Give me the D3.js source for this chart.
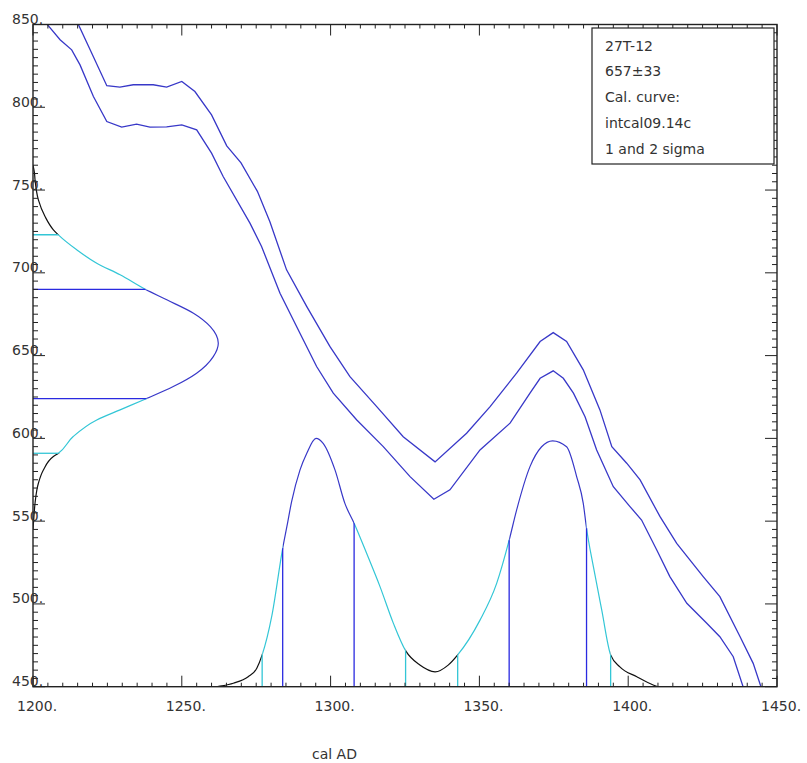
<!DOCTYPE html>
<html>
<head>
<meta charset="utf-8">
<script src="https://cdn.jsdelivr.net/npm/d3@7"></script>
<style>
  body { margin: 0; background: #fff; }
  svg { display: block; font-family: "DejaVu Sans", sans-serif; }
</style>
</head>
<body>
<svg id="chart" width="807" height="763"></svg>
<script>
// tick labels
const xTicks = [1200, 1250, 1300, 1350, 1400, 1450];
const yTicks = [450, 500, 550, 600, 650, 700, 750, 800, 850];

// calibration curve, upper and lower bound (cal AD -> BP)
const upperYears = [1214, 1215.2, 1219.2, 1224.8, 1229.2, 1233.7, 1240.4, 1244.9, 1250, 1254.4, 1260, 1265.1, 1269.9, 1275.4, 1279.6, 1285.2, 1292, 1299.8, 1306.5, 1315.5, 1324.4, 1335.1, 1345.7, 1353.6, 1362.5, 1370.4, 1374.8, 1379.3, 1384.9, 1390.5, 1394.5, 1399.5, 1404, 1410.7, 1416.3, 1425.2, 1430.8, 1437.6, 1442, 1444.6, 1446];
const upperBP = [853, 850.2, 834.7, 813, 812.2, 813.6, 813.6, 812.2, 815.6, 809.5, 795.4, 776.7, 766.4, 749.2, 730.8, 701.8, 679.6, 655.4, 637.3, 619.2, 601, 585.8, 603.1, 619.2, 639.4, 658.5, 663.9, 658.5, 641.4, 617.2, 595, 585, 574.9, 552.7, 536.6, 516.5, 504.4, 480.2, 464.1, 450, 446];
const lowerYears = [1203.5, 1204.7, 1209.1, 1213, 1215.8, 1220.3, 1224.8, 1229.8, 1234.8, 1239.3, 1244.9, 1250, 1255, 1260, 1263.9, 1272.9, 1276.8, 1283, 1289.7, 1295.3, 1300.9, 1308.8, 1317.7, 1326.7, 1334.7, 1340.1, 1350.2, 1360.3, 1367, 1370.4, 1374.8, 1378.2, 1381.6, 1385.5, 1389.4, 1395, 1400.6, 1404.5, 1409.6, 1414, 1419.7, 1426.4, 1430.8, 1435.3, 1438.6, 1440];
const lowerBP = [853, 850.2, 840.8, 834.7, 825.6, 806.5, 791.4, 788, 789.8, 788, 788.2, 789.4, 786.4, 772.3, 758.2, 730, 715.9, 687.7, 663.5, 643.4, 627.3, 611.1, 595, 576.9, 563.2, 568.9, 593, 609.2, 627.3, 636.3, 640.8, 636.3, 627.3, 613.1, 593, 570.8, 558.8, 550.7, 532.6, 516.5, 500.4, 488.3, 480.2, 468.1, 450, 446];

// calibrated probability (relative) by cal AD
const probYears = [1262, 1263.4, 1267.3, 1272.3, 1275.2, 1277, 1280.2, 1283.9, 1285.3, 1286.9, 1289.7, 1292, 1295.1, 1297.5, 1301.5, 1304.8, 1307.9, 1312.1, 1316.6, 1321.1, 1325.2, 1330, 1335.1, 1339.5, 1342.7, 1350.2, 1355.8, 1360, 1362.5, 1367, 1370.9, 1374.6, 1379.3, 1382.7, 1384.9, 1386, 1388.3, 1391.1, 1394.1, 1397.2, 1402.9, 1408.4, 1410];
const probValues = [0, 0.003, 0.014, 0.04, 0.074, 0.128, 0.282, 0.557, 0.644, 0.745, 0.872, 0.94, 1.0, 0.98, 0.872, 0.738, 0.658, 0.537, 0.403, 0.255, 0.145, 0.087, 0.06, 0.087, 0.128, 0.268, 0.416, 0.59, 0.711, 0.886, 0.966, 0.99, 0.966, 0.845, 0.738, 0.638, 0.483, 0.309, 0.128, 0.08, 0.04, 0.007, 0];
const oneSigma = [[1283.9, 1307.9], [1360, 1386]];
const twoSigma = [[1277, 1325.2], [1342.7, 1394.1]];

// radiocarbon date distribution on the BP axis
const c14Mean = 657;
const c14Err = 33;
const c14BP = [765, 760.2, 756.2, 744.1, 734, 726, 722.9, 713.9, 705.8, 698.8, 690.1, 683.7, 675.6, 667.5, 657.5, 649.4, 639.4, 631.3, 623.2, 617.2, 611.1, 601.1, 591, 589, 580.9, 572.9, 560.8, 552.7, 545];
const c14Density = [0, 0.008, 0.011, 0.029, 0.065, 0.11, 0.137, 0.236, 0.344, 0.47, 0.605, 0.722, 0.866, 0.957, 1.0, 0.973, 0.883, 0.757, 0.595, 0.47, 0.344, 0.217, 0.137, 0.11, 0.056, 0.029, 0.011, 0.005, 0];

const legendLines = ["27T-12", "657\u00b133", "Cal. curve:", "intcal09.14c", "1 and 2 sigma"];

const curveBlue = "#3838c8";
const sigBlue = "#2a2ae0";
const cyan = "#33c6d6";
const black = "#111";

const svg = d3.select("#chart");
const x = d3.scaleLinear().domain([1200, 1450]).range([33, 777]);
const y = d3.scaleLinear().domain([450, 850]).range([686.7, 24.5]);
const pScale = d3.scaleLinear().domain([0, 1]).range([y(450), y(450) - 248.4]);
const dScale = d3.scaleLinear().domain([0, 1]).range([x(1200), x(1200) + 185.3]);

function interp(xs, ys, v) {
  const pts = xs.map((d, i) => [d, ys[i]]).sort((a, b) => a[0] - b[0]);
  const i = d3.bisector((p) => p[0]).left(pts, v);
  if (i <= 0) return pts[0][1];
  if (i >= pts.length) return pts[pts.length - 1][1];
  const a = pts[i - 1], b = pts[i];
  return a[1] + (b[1] - a[1]) * (v - a[0]) / (b[0] - a[0]);
}

// intervals of [lo, hi] minus a list of intervals
function subtract(lo, hi, cuts) {
  const out = [];
  let start = lo;
  cuts.slice().sort((a, b) => a[0] - b[0]).forEach((c) => {
    if (c[0] > start) out.push([start, Math.min(c[0], hi)]);
    start = Math.max(start, c[1]);
  });
  if (start < hi) out.push([start, hi]);
  return out;
}

const defs = svg.append("defs");
defs.append("clipPath").attr("id", "plotClip")
  .append("rect")
  .attr("x", x(1200)).attr("y", y(850))
  .attr("width", x(1450) - x(1200)).attr("height", y(450) - y(850));

function bandClip(id, ranges, horiz) {
  const cp = defs.append("clipPath").attr("id", id);
  ranges.forEach((r) => {
    if (horiz) {
      cp.append("rect").attr("x", 0).attr("width", 807)
        .attr("y", y(r[1])).attr("height", y(r[0]) - y(r[1]));
    } else {
      cp.append("rect").attr("y", 0).attr("height", 763)
        .attr("x", x(r[0])).attr("width", x(r[1]) - x(r[0]));
    }
  });
}

const pOut = subtract(1150, 1500, twoSigma);
const pTwo = twoSigma.flatMap((r) => subtract(r[0], r[1], oneSigma));
bandClip("p0", pOut, false);
bandClip("p2", pTwo, false);
bandClip("p1", oneSigma, false);

const c14One = [[c14Mean - c14Err, c14Mean + c14Err]];
const c14TwoFull = [[c14Mean - 2 * c14Err, c14Mean + 2 * c14Err]];
bandClip("c0", subtract(400, 900, c14TwoFull), true);
bandClip("c2", subtract(c14TwoFull[0][0], c14TwoFull[0][1], c14One), true);
bandClip("c1", c14One, true);

const plot = svg.append("g").attr("clip-path", "url(#plotClip)");

// calibration curve
const calLine = d3.line().x((d) => x(d[0])).y((d) => y(d[1]));
plot.append("path")
  .attr("d", calLine(upperYears.map((d, i) => [d, upperBP[i]])))
  .attr("fill", "none").attr("stroke", curveBlue).attr("stroke-width", 1.3);
plot.append("path")
  .attr("d", calLine(lowerYears.map((d, i) => [d, lowerBP[i]])))
  .attr("fill", "none").attr("stroke", curveBlue).attr("stroke-width", 1.3);

// calibrated distribution
const probLine = d3.line().x((d) => x(d[0])).y((d) => pScale(d[1])).curve(d3.curveMonotoneX);
const probData = probYears.map((d, i) => [d, probValues[i]]);
[[black, "p0"], [cyan, "p2"], [curveBlue, "p1"]].forEach(([col, clip]) => {
  plot.append("g").attr("clip-path", `url(#${clip})`)
    .append("path").attr("d", probLine(probData))
    .attr("fill", "none").attr("stroke", col).attr("stroke-width", 1.2);
});
twoSigma.flat().forEach((v) => {
  plot.append("line")
    .attr("x1", x(v)).attr("x2", x(v))
    .attr("y1", pScale(0)).attr("y2", pScale(interp(probYears, probValues, v)))
    .attr("stroke", cyan).attr("stroke-width", 1.3);
});
oneSigma.flat().forEach((v) => {
  plot.append("line")
    .attr("x1", x(v)).attr("x2", x(v))
    .attr("y1", pScale(0)).attr("y2", pScale(interp(probYears, probValues, v)))
    .attr("stroke", sigBlue).attr("stroke-width", 1.3);
});

// radiocarbon distribution
const c14Line = d3.line().x((d) => dScale(d[1])).y((d) => y(d[0])).curve(d3.curveMonotoneY);
const c14Data = c14BP.map((d, i) => [d, c14Density[i]]);
[[black, "c0"], [cyan, "c2"], [curveBlue, "c1"]].forEach(([col, clip]) => {
  plot.append("g").attr("clip-path", `url(#${clip})`)
    .append("path").attr("d", c14Line(c14Data))
    .attr("fill", "none").attr("stroke", col).attr("stroke-width", 1.2);
});
c14TwoFull.flat().forEach((v) => {
  plot.append("line")
    .attr("x1", dScale(0)).attr("x2", dScale(interp(c14BP, c14Density, v)))
    .attr("y1", y(v)).attr("y2", y(v))
    .attr("stroke", cyan).attr("stroke-width", 1.3);
});
c14One.flat().forEach((v) => {
  plot.append("line")
    .attr("x1", dScale(0)).attr("x2", dScale(interp(c14BP, c14Density, v)))
    .attr("y1", y(v)).attr("y2", y(v))
    .attr("stroke", sigBlue).attr("stroke-width", 1.3);
});

// frame and ticks
const axes = svg.append("g").attr("stroke", "#222").attr("stroke-width", 1.4);
axes.append("rect")
  .attr("x", x(1200)).attr("y", y(850))
  .attr("width", x(1450) - x(1200)).attr("height", y(450) - y(850))
  .attr("fill", "none");

const xMinor = d3.range(1200, 1451, 5);
const yMinor = d3.range(450, 851, 5);
const tickLen = (v, major) => (v % major === 0 ? 11 : 4);

xMinor.forEach((v) => {
  const l = tickLen(v, 50);
  axes.append("line").attr("x1", x(v)).attr("x2", x(v))
    .attr("y1", y(450)).attr("y2", y(450) - l).attr("stroke-width", 1);
  axes.append("line").attr("x1", x(v)).attr("x2", x(v))
    .attr("y1", y(850)).attr("y2", y(850) + l).attr("stroke-width", 1);
});
yMinor.forEach((v) => {
  const l = tickLen(v, 50) + 1;
  axes.append("line").attr("y1", y(v)).attr("y2", y(v))
    .attr("x1", x(1200)).attr("x2", x(1200) + l).attr("stroke-width", 1);
  axes.append("line").attr("y1", y(v)).attr("y2", y(v))
    .attr("x1", x(1450)).attr("x2", x(1450) - l).attr("stroke-width", 1);
});

// tick labels
svg.append("g").selectAll("text").data(xTicks).join("text")
  .attr("x", (d) => x(d) - 16).attr("y", 711)
  .attr("font-size", 14).attr("fill", "#333")
  .text((d) => d + ".");
svg.append("g").selectAll("text").data(yTicks).join("text")
  .attr("x", 12).attr("y", (d) => y(d) - 0.5)
  .attr("font-size", 14).attr("fill", "#333")
  .text((d) => d + ".");

svg.append("text").attr("x", 312).attr("y", 759)
  .attr("font-size", 14).attr("fill", "#333").text("cal AD");

// legend box
svg.append("rect").attr("x", 592).attr("y", 28).attr("width", 182).attr("height", 136)
  .attr("fill", "#fff").attr("stroke", "#222").attr("stroke-width", 1.2);
svg.append("g").selectAll("text").data(legendLines).join("text")
  .attr("x", 605).attr("y", (d, i) => 50.5 + i * 25.8)
  .attr("font-size", 14).attr("fill", "#333")
  .text((d) => d);
</script>
</body>
</html>
